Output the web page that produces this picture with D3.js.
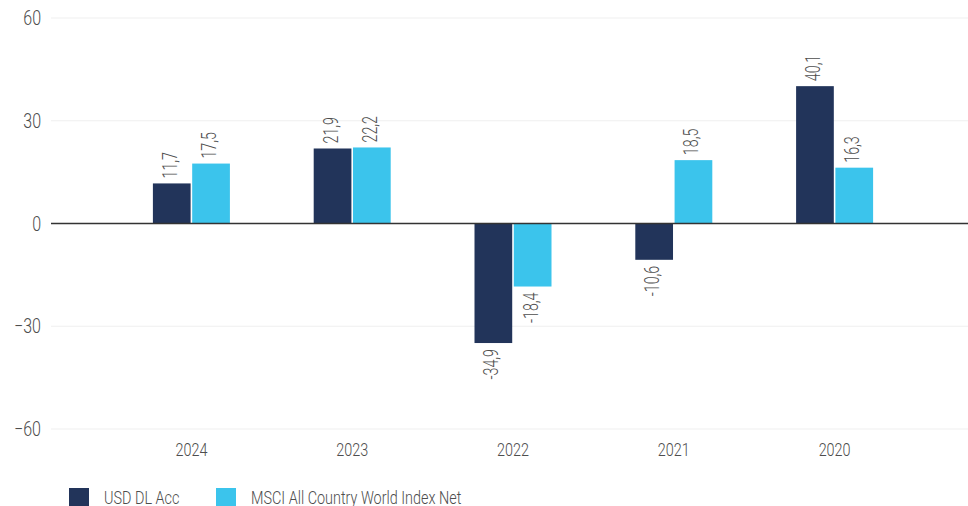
<!DOCTYPE html>
<html>
<head>
<meta charset="utf-8">
<script src="https://cdn.jsdelivr.net/npm/d3@7"></script>
<style>
  body { margin: 0; background: #fff; }
  svg text { font-family: Roboto, "DejaVu Sans Condensed", sans-serif; font-weight: 300; fill: #4d4d4d; }
</style>
</head>
<body>
<div id="chart"></div>
<script>
// Data
const years = ["2024", "2023", "2022", "2021", "2020"];
const fund = [11.7, 21.9, -34.9, -10.6, 40.1];
const index = [17.5, 22.2, -18.4, 18.5, 16.3];
const seriesNames = ["USD DL Acc", "MSCI All Country World Index Net"];
const seriesColors = ["#22345a", "#3bc4ec"];
const yTicks = [-60, -30, 0, 30, 60];

const width = 968;
const height = 506;

// the reference uses a condensed face, so narrow the glyphs of each text
function squeeze(sel, k) {
    sel.each(function() {
        const w = this.getComputedTextLength();
        d3.select(this).attr("textLength", w * k).attr("lengthAdjust", "spacingAndGlyphs");
    });
}

const svg = d3.select("#chart").append("svg")
    .attr("width", width)
    .attr("height", height);

const y = d3.scaleLinear().domain([-60, 60]).range([429, 18]);
const x = d3.scaleBand().domain(years).range([111, 915]);
const x1 = d3.scaleBand().domain([0, 1]).range([0, 77]).paddingInner(0.04);

// Gridlines
svg.append("g")
    .selectAll("line")
    .data(yTicks.filter(d => d !== 0))
    .enter().append("line")
    .attr("x1", 51).attr("x2", 968)
    .attr("y1", d => y(d)).attr("y2", d => y(d))
    .attr("stroke", "#efefef")
    .attr("stroke-width", 1);

// Y tick labels
svg.append("g")
    .selectAll("text")
    .data(yTicks)
    .enter().append("text")
    .attr("x", 41)
    .attr("y", d => y(d) + 7)
    .attr("text-anchor", "end")
    .style("font-size", "20px")
    .text(d => d < 0 ? "\u2212" + Math.abs(d) : d)
    .call(squeeze, 0.8);

// Bars
const rows = years.map((yr, i) => [fund[i], index[i]]);
const groups = svg.append("g")
    .selectAll("g")
    .data(rows)
    .enter().append("g")
    .attr("transform", (d, i) => `translate(${x(years[i]) + x.bandwidth() / 2 - 38.5},0)`);

groups.selectAll("rect")
    .data(d => d)
    .enter().append("rect")
    .attr("x", (d, j) => x1(j))
    .attr("width", x1.bandwidth())
    .attr("y", d => y(Math.max(0, d)))
    .attr("height", d => Math.abs(y(d) - y(0)))
    .attr("fill", (d, j) => seriesColors[j]);

// Value labels (rotated)
groups.selectAll("text")
    .data(d => d)
    .enter().append("text")
    .attr("transform", (d, j) => {
        const cx = x1(j) + x1.bandwidth() / 2 + 5;
        const cy = d >= 0 ? y(d) - 5 : y(d) + 6;
        return `translate(${cx},${cy}) rotate(-90)`;
    })
    .attr("text-anchor", d => d >= 0 ? "start" : "end")
    .style("font-size", "19.5px")
    .text(d => String(d.toFixed(1)).replace(".", ","))
    .call(squeeze, 0.73);

// Zero line
svg.append("line")
    .attr("x1", 51).attr("x2", 968)
    .attr("y1", y(0)).attr("y2", y(0))
    .attr("stroke", "#333")
    .attr("stroke-width", 1.5);

// X labels
svg.append("g")
    .selectAll("text")
    .data(years)
    .enter().append("text")
    .attr("x", d => x(d) + x.bandwidth() / 2)
    .attr("y", 456)
    .attr("text-anchor", "middle")
    .style("font-size", "18px")
    .text(d => d)
    .call(squeeze, 0.8);

// Legend
const legendX = [69, 216];
const legend = svg.append("g")
    .selectAll("g")
    .data(seriesNames)
    .enter().append("g")
    .attr("transform", (d, i) => `translate(${legendX[i]},488)`);

legend.append("rect")
    .attr("width", 20).attr("height", 18)
    .attr("fill", (d, i) => seriesColors[i]);

legend.append("text")
    .attr("x", 35)
    .attr("y", 16)
    .style("font-size", "18px")
    .text(d => d)
    .call(squeeze, 0.8);
</script>
</body>
</html>
